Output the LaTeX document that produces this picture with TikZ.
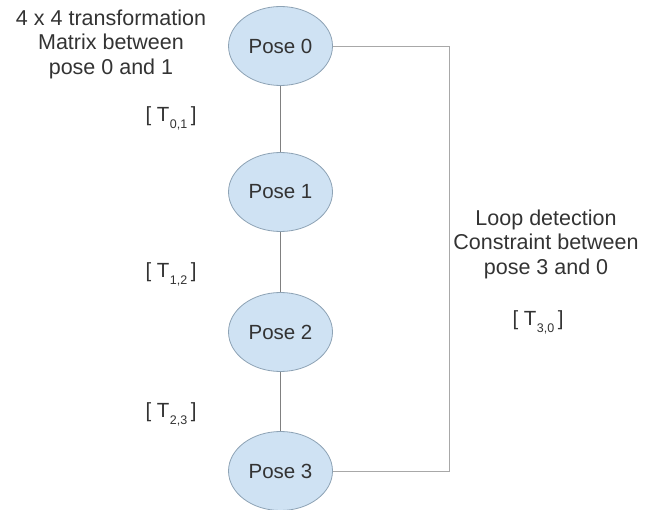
\documentclass[tikz,border=0pt]{standalone}
\usepackage{fontspec}
\setmainfont{Liberation Sans}
\usetikzlibrary{shapes.geometric}
\definecolor{posefill}{HTML}{CFE2F3}
\definecolor{poseedge}{HTML}{8EA3B5}
\definecolor{txt}{HTML}{333333}
\definecolor{linkline}{HTML}{808080}
\definecolor{loopline}{HTML}{A8A8A8}
\newcommand{\tmat}[1]{[ T\kern0.5pt\raisebox{-7pt}{\fontsize{12.5}{13}\selectfont #1}\kern3.5pt]}
\begin{document}
\begin{tikzpicture}[x=1pt,y=-1pt,
  pose/.style={ellipse, draw=poseedge, fill=posefill, line width=0.8pt,
    minimum width=104pt, minimum height=79pt, inner sep=0pt,
    text=txt, font=\fontsize{20.5}{24}\selectfont},
  note/.style={align=center, text=txt, inner sep=0pt,
    font=\fontsize{21.5}{24.5}\selectfont},
  tlabel/.style={text=txt, inner sep=0pt, font=\fontsize{20.5}{24}\selectfont},
  link/.style={draw=linkline, line width=0.8pt},
  loop/.style={draw=loopline, line width=0.9pt}]
\useasboundingbox (0,0) rectangle (660,510);

\node[pose] (p0) at (280.5,46) {Pose 0};
\node[pose] (p1) at (280.5,192) {Pose 1};
\node[pose] (p2) at (280.5,332) {Pose 2};
\node[pose] (p3) at (280.5,471) {Pose 3};

\draw[link] (p0) -- (p1);
\draw[link] (p1) -- (p2);
\draw[link] (p2) -- (p3);

\coordinate (lp) at (449,0);
\draw[loop] (p0.east) -- (p0.east -| lp) |- (p3.east);

\node[note] (n01) at (111,44) {4 x 4 transformation\\Matrix between\\pose 0 and 1};
\node[note] (nloop) at (546,244) {Loop detection\\Constraint between\\pose 3 and 0};

\node[tlabel] (t01) at (171,118) {\tmat{0,1}};
\node[tlabel] (t12) at (171,274) {\tmat{1,2}};
\node[tlabel] (t23) at (171,414) {\tmat{2,3}};
\node[tlabel] (t30) at (538,322) {\tmat{3,0}};
\end{tikzpicture}
\end{document}
